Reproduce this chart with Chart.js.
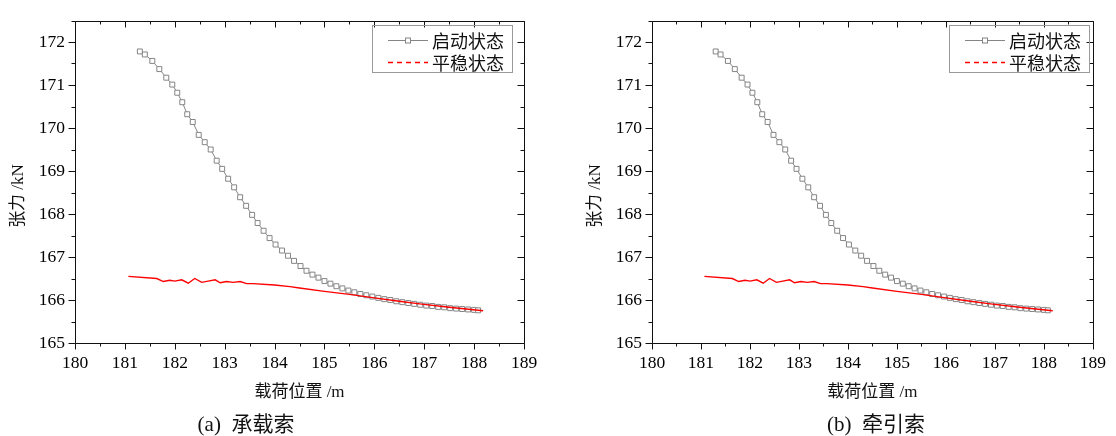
<!DOCTYPE html>
<html>
<head>
<meta charset="utf-8">
<script src="https://cdn.jsdelivr.net/npm/chart.js@4.4.1/dist/chart.umd.min.js"></script>
<style>
  html, body { margin: 0; padding: 0; background: #fff; }
  body { width: 1116px; height: 436px; position: relative; overflow: hidden; }
  .panel { position: absolute; top: 0; height: 436px; }
</style>
</head>
<body>
<div class="panel" id="pa" style="left:0;width:577px;"><canvas id="ca"></canvas></div>
<div class="panel" id="pb" style="left:577px;width:539px;"><canvas id="cb"></canvas></div>
<script>
// ---- data ----
const xTicks = [180, 181, 182, 183, 184, 185, 186, 187, 188, 189];
const yTicks = [165, 166, 167, 168, 169, 170, 171, 172];

const seriesNames = ['启动状态', '平稳状态'];
const panelCaptions = ['(a)  承载索', '(b)  牵引索'];
const xTitle = '载荷位置 /m';
const yTitle = '张力 /kN';

// 启动状态 (start-up)
const startX = [181.30, 181.40, 181.55, 181.69, 181.83, 181.95, 182.05, 182.15, 182.25, 182.36,
  182.48, 182.60, 182.72, 182.84, 182.95, 183.07, 183.19, 183.31, 183.43, 183.55,
  183.66, 183.78, 183.90, 184.02, 184.15, 184.27, 184.39, 184.52, 184.64, 184.76,
  184.88, 185.00, 185.12, 185.24, 185.36, 185.48, 185.60, 185.72, 185.84, 185.96,
  186.08, 186.20, 186.32, 186.44, 186.56, 186.68, 186.80, 186.92, 187.04, 187.16,
  187.28, 187.40, 187.52, 187.64, 187.76, 187.88, 188.00, 188.08];
const startY = [171.78, 171.71, 171.56, 171.37, 171.17, 171.01, 170.82, 170.60, 170.32, 170.14,
  169.84, 169.67, 169.50, 169.24, 169.05, 168.82, 168.62, 168.39, 168.19, 167.98,
  167.79, 167.61, 167.44, 167.29, 167.15, 167.03, 166.91, 166.79, 166.68, 166.59,
  166.52, 166.44, 166.38, 166.32, 166.27, 166.22, 166.18, 166.14, 166.11, 166.08,
  166.05, 166.02, 166.00, 165.97, 165.95, 165.93, 165.91, 165.89, 165.87, 165.86,
  165.84, 165.83, 165.81, 165.80, 165.79, 165.78, 165.77, 165.76];

// 平稳状态 (steady)
const steadyX = [181.07, 181.64, 181.77, 181.90, 182.00, 182.14, 182.27, 182.40, 182.54, 182.67,
  182.81, 182.91, 183.04, 183.17, 183.31, 183.44, 183.57, 184.00, 184.31, 184.50,
  185.00, 185.50, 186.00, 186.50, 186.91, 187.50, 188.18];
const steadyY = [166.55, 166.50, 166.43, 166.46, 166.44, 166.47, 166.39, 166.50, 166.41, 166.44,
  166.47, 166.40, 166.43, 166.41, 166.43, 166.38, 166.38, 166.35, 166.31, 166.28,
  166.20, 166.13, 166.05, 165.97, 165.91, 165.83, 165.75];

// ---- styling ----
const SERIF = "'Liberation Serif', 'Noto Sans CJK SC', serif";
const TXT = '#000';
const GRAY = '#858585';
const RED = '#ff0000';

function pts(xs, ys) { return xs.map((v, i) => ({ x: v, y: ys[i] })); }

const decorPlugin = {
  id: 'decor',
  afterDatasetsDraw(chart, args, opts) {
    const { ctx, chartArea: a, scales: { x, y } } = chart;
    const L = Math.round(a.left) + 0.5, R = Math.round(a.right) + 0.5;
    const T = Math.round(a.top) + 0.5, B = Math.round(a.bottom) + 0.5;
    ctx.save();
    ctx.strokeStyle = '#111';
    ctx.lineWidth = 1;
    ctx.beginPath();
    ctx.rect(L, T, R - L, B - T);
    // x ticks
    for (let i = 0; i < xTicks.length; i++) {
      const px = Math.round(x.getPixelForValue(xTicks[i])) + 0.5;
      ctx.moveTo(px, B); ctx.lineTo(px, B + 6);
      ctx.moveTo(px, T); ctx.lineTo(px, T + 6);
      if (i < xTicks.length - 1) {
        const pm = Math.round(x.getPixelForValue((xTicks[i] + xTicks[i + 1]) / 2)) + 0.5;
        ctx.moveTo(pm, B); ctx.lineTo(pm, B + 3);
        ctx.moveTo(pm, T); ctx.lineTo(pm, T + 3);
      }
    }
    // y ticks
    for (let i = 0; i < yTicks.length; i++) {
      const py = Math.round(y.getPixelForValue(yTicks[i])) + 0.5;
      ctx.moveTo(L, py); ctx.lineTo(L - 7, py);
      ctx.moveTo(R, py); ctx.lineTo(R - 7, py);
      const nxt = i < yTicks.length - 1 ? (yTicks[i] + yTicks[i + 1]) / 2 : yTicks[i] + 0.5;
      if (nxt <= y.max) {
        const pm = Math.round(y.getPixelForValue(nxt)) + 0.5;
        ctx.moveTo(L, pm); ctx.lineTo(L - 4, pm);
        ctx.moveTo(R, pm); ctx.lineTo(R - 4, pm);
      }
    }
    ctx.stroke();

    // legend box
    const lx = a.left + 297, ly = 25, lw = 140, lh = 47;
    ctx.strokeStyle = '#9a9a9a';
    ctx.strokeRect(Math.round(lx) + 0.5, ly + 0.5, lw, lh);
    const ds = chart.data.datasets;
    const rows = [40, 62];
    ctx.font = "18px 'Noto Sans CJK SC', sans-serif";
    ctx.textBaseline = 'middle';
    ctx.textAlign = 'left';
    for (let i = 0; i < ds.length; i++) {
      const ry = rows[i] + 0.5;
      ctx.beginPath();
      ctx.strokeStyle = ds[i].borderColor;
      ctx.lineWidth = ds[i].borderWidth;
      ctx.setLineDash(i === 1 ? [5, 4] : []);
      ctx.moveTo(lx + 16, ry); ctx.lineTo(lx + 56, ry);
      ctx.stroke();
      ctx.setLineDash([]);
      if (i === 0) {
        ctx.fillStyle = '#fff';
        ctx.lineWidth = 1;
        ctx.fillRect(lx + 33.5, ry - 2.5, 5, 5);
        ctx.strokeRect(lx + 33.5, ry - 2.5, 5, 5);
      }
      ctx.fillStyle = '#111';
      ctx.fillText(ds[i].label, lx + 60, rows[i] + 1);
    }

    // axis titles and caption
    ctx.fillStyle = '#111';
    ctx.font = "17px " + SERIF;
    ctx.textAlign = 'center';
    ctx.fillText(xTitle, (a.left + a.right) / 2, 393);
    ctx.save();
    ctx.translate(19, 196);
    ctx.rotate(-Math.PI / 2);
    ctx.fillText(yTitle, 0, 0);
    ctx.restore();
    ctx.font = "21px " + SERIF;
    ctx.fillText(opts.caption, opts.captionX, 425);
    ctx.restore();
  }
};

function makeChart(id, padRight, caption, captionX) {
  return new Chart(document.getElementById(id), {
    type: 'line',
    data: {
      datasets: [
        {
          label: seriesNames[0],
          data: pts(startX, startY),
          borderColor: GRAY,
          borderWidth: 1,
          pointStyle: 'rect',
          pointRadius: 3.5,
          pointBorderWidth: 1,
          pointBorderColor: GRAY,
          pointBackgroundColor: '#fff',
          tension: 0,
          order: 2
        },
        {
          label: seriesNames[1],
          data: pts(steadyX, steadyY),
          borderColor: RED,
          borderWidth: 1.4,
          pointRadius: 0,
          tension: 0,
          order: 1
        }
      ]
    },
    options: {
      responsive: true,
      maintainAspectRatio: false,
      animation: false,
      events: [],
      layout: { padding: { left: 0, top: 13, right: padRight, bottom: 0 } },
      plugins: {
        legend: { display: false },
        tooltip: { enabled: false },
        decor: { caption: caption, captionX: captionX }
      },
      scales: {
        x: {
          type: 'linear',
          min: 180, max: 189,
          afterBuildTicks: s => { s.ticks = xTicks.map(v => ({ value: v })); },
          afterFit: s => { s.height = 93; },
          grid: { display: false, drawTicks: false },
          border: { display: false },
          ticks: {
            padding: 10, maxRotation: 0, autoSkip: false,
            color: TXT, font: { family: SERIF, size: 17.5 }
          }
        },
        y: {
          type: 'linear',
          min: 165, max: 172.5,
          afterBuildTicks: s => { s.ticks = yTicks.map(v => ({ value: v })); },
          afterFit: s => { s.width = 75; },
          grid: { display: false, drawTicks: false },
          border: { display: false },
          ticks: {
            padding: 10,
            color: TXT, font: { family: SERIF, size: 17.5 }
          }
        }
      }
    },
    plugins: [decorPlugin]
  });
}

makeChart('ca', 53, panelCaptions[0], 246);
makeChart('cb', 14, panelCaptions[1], 299);
</script>
</body>
</html>
